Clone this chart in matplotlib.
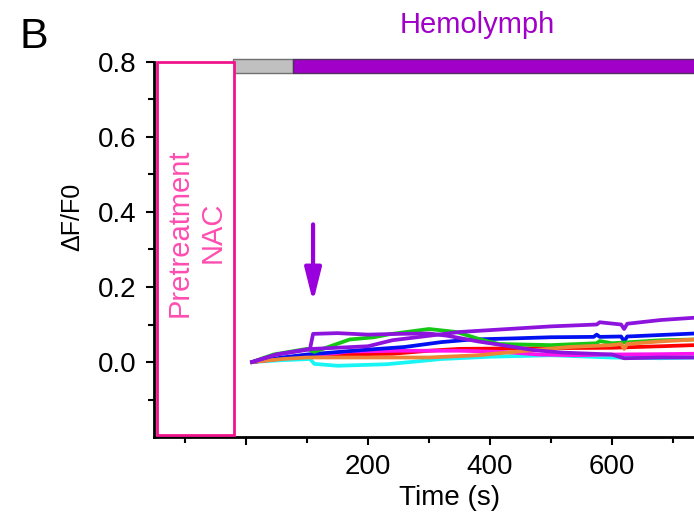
import numpy as np
import matplotlib
matplotlib.use('Agg')
import matplotlib.pyplot as plt
from matplotlib.patches import Rectangle

plt.rcParams['font.family'] = ['Liberation Sans', 'DejaVu Sans']

#-------------------------------------------------------------------------
# traces (time in s, dF/F0)
t_cyan    = [10, 60, 105, 112, 150, 230, 270, 320, 400, 500, 600, 680, 735]
y_cyan    = [0.0, 0.005, 0.008, -0.005, -0.010, -0.006, 0.0, 0.008, 0.014, 0.018, 0.012, 0.010, 0.012]

t_red     = [10, 60, 100, 160, 240, 300, 350, 420, 500, 600, 680, 735]
y_red     = [0.0, 0.010, 0.015, 0.020, 0.022, 0.030, 0.035, 0.036, 0.037, 0.038, 0.042, 0.045]

t_magenta = [10, 60, 100, 170, 250, 350, 420, 480, 540, 600, 680, 735]
y_magenta = [0.0, 0.010, 0.015, 0.028, 0.030, 0.030, 0.027, 0.020, 0.018, 0.020, 0.021, 0.022]

t_blue    = [10, 60, 100, 200, 260, 320, 370, 440, 500, 570, 575, 580, 615, 620, 625, 680, 735]
y_blue    = [0.0, 0.012, 0.020, 0.033, 0.040, 0.053, 0.060, 0.063, 0.066, 0.067, 0.073, 0.067, 0.068, 0.055, 0.068, 0.072, 0.076]

t_green   = [10, 45, 100, 112, 170, 210, 235, 300, 345, 385, 415, 500, 575, 580, 600, 680, 735]
y_green   = [0.0, 0.020, 0.035, 0.027, 0.060, 0.066, 0.074, 0.088, 0.080, 0.060, 0.048, 0.045, 0.050, 0.056, 0.050, 0.058, 0.060]

t_orange  = [10, 60, 100, 200, 300, 380, 460, 530, 600, 615, 620, 625, 680, 735]
y_orange  = [0.0, 0.008, 0.012, 0.012, 0.012, 0.018, 0.030, 0.040, 0.045, 0.048, 0.035, 0.048, 0.055, 0.060]

t_purp_a  = [10, 50, 105, 110, 150, 200, 250, 300, 330, 380, 420, 470, 520, 600, 620, 680, 735]
y_purp_a  = [0.0, 0.020, 0.035, 0.075, 0.077, 0.073, 0.075, 0.076, 0.070, 0.055, 0.045, 0.032, 0.025, 0.020, 0.010, 0.012, 0.012]

t_purp_b  = [10, 50, 110, 200, 240, 300, 350, 400, 500, 575, 580, 615, 620, 625, 680, 735]
y_purp_b  = [0.0, 0.020, 0.035, 0.042, 0.058, 0.070, 0.080, 0.085, 0.095, 0.100, 0.106, 0.100, 0.088, 0.102, 0.112, 0.118]

traces = [(t_cyan, y_cyan, '#19f5f5'),
          (t_red, y_red, '#ff0000'),
          (t_magenta, y_magenta, '#ff14f0'),
          (t_blue, y_blue, '#0010f0'),
          (t_green, y_green, '#14c814'),
          (t_orange, y_orange, '#ee8536'),
          (t_purp_a, y_purp_a, '#8c14dc'),
          (t_purp_b, y_purp_b, '#8c14dc')]

xticks = [0, 200, 400, 600]
xticklabels = ['', '200', '400', '600']
yticks = [0.0, 0.2, 0.4, 0.6, 0.8]
yticklabels = ['0.0', '0.2', '0.4', '0.6', '0.8']

#-------------------------------------------------------------------------
fig = plt.figure(figsize=(6.94, 5.2), dpi=100)
# axes runs past the right edge of the figure, as in the original crop
ax = fig.add_axes([0.2226, 0.1596, 0.791, 0.7212])

for t, y, c in traces:
  ax.plot(t, y, color=c, lw=2.7, solid_joinstyle='round')

ax.set_xlim(-150, 750)
ax.set_ylim(-0.2, 0.8)

ax.set_xticks(xticks)
ax.set_xticklabels(xticklabels)
ax.set_xticks([-100, 100, 300, 500, 700], minor=True)
ax.set_yticks(yticks)
ax.set_yticklabels(yticklabels)
ax.set_yticks([-0.1, 0.1, 0.3, 0.5, 0.7], minor=True)

ax.tick_params(which='major', length=6, width=1.5, labelsize=20)
ax.tick_params(axis='x', which='major', pad=6)
ax.tick_params(axis='y', which='major', pad=7)
ax.tick_params(which='minor', length=4, width=1.5)

for s in ['top', 'right']:
  ax.spines[s].set_visible(False)
for s in ['left', 'bottom']:
  ax.spines[s].set_linewidth(2)

ax.set_xlabel('Time (s)', fontsize=20)
ax.xaxis.set_label_coords(0.537, -0.128)
fig.text(0.1037, 0.583, '\u0394F/F0', rotation=90, ha='center', va='center',
         fontsize=18)

# pretreatment box
ax.add_patch(Rectangle((-146, -0.195), 127, 0.995, facecolor='white',
                       edgecolor='#f0148c', lw=2, clip_on=False, zorder=5))
ax.text(-82, 0.345, 'Pretreatment\nNAC', rotation=90, ha='center', va='center',
        multialignment='center', color='#ff4db0', fontsize=21, zorder=6)

# stimulus bar on top
ax.add_patch(Rectangle((-21, 0.771), 98, 0.037, facecolor='#c0c0c0',
                       edgecolor='#707070', lw=1, clip_on=False, zorder=4))
ax.add_patch(Rectangle((77, 0.771), 700, 0.037, facecolor='#a000c8',
                       edgecolor='#503060', lw=1, clip_on=False, zorder=4))
fig.text(0.687, 0.9365, 'Hemolymph', color='#a000c8', fontsize=21,
         ha='center', va='baseline')

# application arrow
ax.annotate('', xy=(110, 0.16), xytext=(110, 0.367),
            arrowprops=dict(arrowstyle='-|>,head_length=1.0,head_width=0.25',
                            mutation_scale=20, color='#9900dd', lw=3,
                            shrinkA=0, shrinkB=0))

fig.text(0.0288, 0.9077, 'B', fontsize=31, ha='left', va='baseline')

plt.savefig('out.png', dpi=100)
plt.close()
